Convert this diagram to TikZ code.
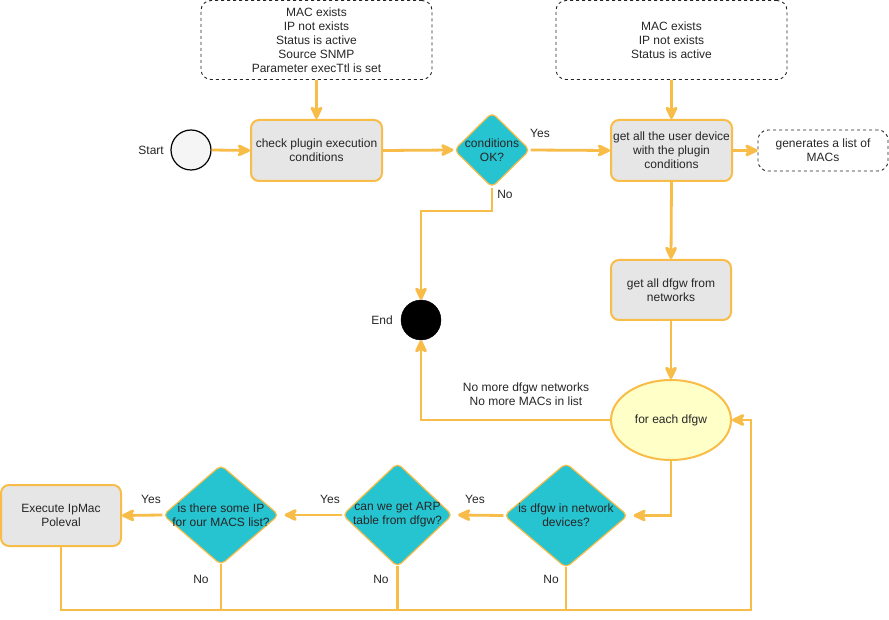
\documentclass[tikz,border=0pt]{standalone}
\usepackage{fontspec}
\setmainfont{Liberation Sans}
\usetikzlibrary{shapes.geometric,arrows.meta}
\definecolor{orng}{HTML}{F8BC48}
\definecolor{dteal}{HTML}{26C3D0}
\definecolor{boxgray}{HTML}{E6E6E6}
\definecolor{ylw}{HTML}{FFFFC8}
\definecolor{txt}{HTML}{262626}
\definecolor{startfill}{HTML}{F5F5F5}
\tikzset{
  proc/.style={draw=orng, line width=2pt, fill=boxgray, rounded corners=8pt, align=center, inner sep=0pt},
  note/.style={draw=black!85, dash pattern=on 3pt off 3pt, line width=0.9pt, rounded corners=10pt, align=center, inner sep=0pt},
  dec/.style={diamond, draw=orng, line width=1.2pt, fill=dteal, inner sep=0pt, rounded corners=5pt},
  dectext/.style={align=center, inner sep=0pt},
  flow/.style={draw=orng, line width=2.8pt, -{Stealth[length=16pt,width=15pt,inset=4.5pt,round]}},
  plain/.style={draw=orng, line width=2.8pt},
  lbl/.style={align=center, inner sep=0pt},
}
\begin{document}
\begin{tikzpicture}[x=1pt,y=-1pt,font=\fontsize{12}{14}\selectfont,text=txt]
\useasboundingbox (0,0) rectangle (889,620);

% nodes
\node[note, minimum width=231pt, minimum height=79pt] (note1) at (316.5,40) {MAC exists\\IP not exists\\Status is active\\Source SNMP\\Parameter execTtl is set};
\node[note, minimum width=231pt, minimum height=79pt] (note2) at (671.5,40) {MAC exists\\IP not exists\\Status is active};
\node[circle, draw=black, line width=1.2pt, fill=startfill, minimum size=40pt, inner sep=0pt] (start) at (191,150) {};
\node[lbl, anchor=east] (startlbl) at (164,150) {Start};
\node[proc, minimum width=131pt, minimum height=61pt] (check) at (316.5,150.5) {check plugin execution\\conditions};
\node[dec, minimum width=76pt, minimum height=75pt] (cond) at (492,150) {};
\node[dectext] (condt) at (492,150) {conditions\\OK?};
\node[proc, minimum width=121pt, minimum height=61pt] (getuser) at (671.5,150.5) {get all the user device\\with the plugin\\conditions};
\node[note, minimum width=130pt, minimum height=41pt] (gen) at (823,150.5) {generates a list of\\MACs};
\node[proc, minimum width=120pt, minimum height=60pt] (dfgw) at (671,290) {get all dfgw from\\networks};
\node[circle, draw=black, fill=black, minimum size=40pt, inner sep=0pt] (end) at (421,320) {};
\node[lbl, anchor=east] (endlbl) at (393,320) {End};
\node[ellipse, draw=orng, line width=2pt, fill=ylw, minimum width=120pt, minimum height=80pt, inner sep=0pt] (loop) at (671,420) {for each dfgw};
\node[dec, minimum width=124pt, minimum height=105pt] (indev) at (566,515.5) {};
\node[dectext] (indevt) at (566,515.5) {is dfgw in network\\devices?};
\node[dec, minimum width=110pt, minimum height=104pt] (arp) at (397.5,515) {};
\node[dectext] (arpt) at (397.5,515) {can we get ARP\\table from dfgw?};
\node[dec, minimum width=116pt, minimum height=100pt] (hasip) at (221,515) {};
\node[dectext] (hasipt) at (221,515) {is there some IP\\for our MACS list?};
\node[proc, minimum width=120pt, minimum height=61pt] (exec) at (61,515.5) {Execute IpMac\\Poleval};

\coordinate (bl) at (61,610);
\coordinate (br) at (751,610);

% connectors
\draw[flow] (note1.south) -- (check.north);
\draw[flow] (start.east) -- (check.west);
\draw[flow] (check.east) -- (cond.west);
\draw[flow] (cond.east) -- (getuser.west);
\draw[flow] (cond.south) -- ++(0,23) -| (end.north);
\draw[flow] (note2.south) -- (getuser.north);
\draw[flow] (getuser.east) -- (gen.west);
\draw[flow] (getuser.south) -- (dfgw.north);
\draw[flow] (dfgw.south) -- (loop.north);
\draw[flow] (loop.west) -| (end.south);
\draw[flow] (loop.south) |- ([xshift=5pt]indev.east);
\draw[flow] (indev.west) -- ([xshift=5pt]arp.east);
\draw[flow] (arp.west) -- ([xshift=5pt]hasip.east);
\draw[flow] (hasip.west) -- (exec.east);
\draw[flow] (exec.south) -- (bl) -- (br) |- (loop.east);
\draw[plain] ([yshift=2pt]hasip.south) -- (hasip.south |- bl);
\draw[plain] ([yshift=2pt]arp.south) -- (arp.south |- bl);
\draw[plain] ([yshift=2pt]indev.south) -- (indev.south |- bl);

% labels
\node[lbl] (ly1) at (540,133) {Yes};
\node[lbl] (ln1) at (505,194) {No};
\node[lbl] (lmore) at (526,394) {No more dfgw networks\\No more MACs in list};
\node[lbl] (ly2) at (475,499) {Yes};
\node[lbl] (ly3) at (330,499) {Yes};
\node[lbl] (ly4) at (151,499) {Yes};
\node[lbl] (ln2) at (201,579) {No};
\node[lbl] (ln3) at (381,579) {No};
\node[lbl] (ln4) at (551,579) {No};
\end{tikzpicture}
\end{document}
